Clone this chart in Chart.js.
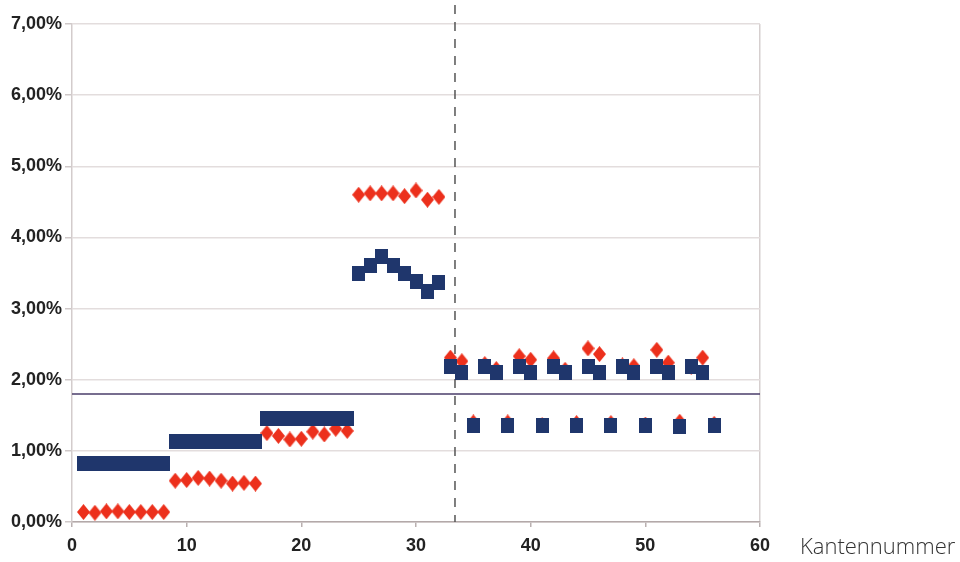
<!DOCTYPE html>
<html>
<head>
<meta charset="utf-8">
<script src="https://cdn.jsdelivr.net/npm/chart.js@4.4.1/dist/chart.umd.min.js"></script>
<style>
  html, body { margin: 0; padding: 0; background: #ffffff; }
  #wrap { position: relative; width: 960px; height: 562px; }
</style>
</head>
<body>
<div id="wrap"><canvas id="edgeChart"></canvas></div>
<script>
// Kantennummer (x) for both series
const edgeNumbers = [
  1, 2, 3, 4, 5, 6, 7, 8,
  9, 10, 11, 12, 13, 14, 15, 16,
  17, 18, 19, 20, 21, 22, 23, 24,
  25, 26, 27, 28, 29, 30, 31, 32,
  33, 34, 35, 36, 37, 38, 39, 40, 41, 42, 43, 44,
  45, 46, 47, 48, 49, 50, 51, 52, 53, 54, 55, 56
];

// blue squares (in %)
const blueValues = [
  0.82, 0.82, 0.82, 0.82, 0.82, 0.82, 0.82, 0.82,
  1.13, 1.13, 1.13, 1.13, 1.13, 1.13, 1.13, 1.13,
  1.46, 1.46, 1.46, 1.46, 1.46, 1.46, 1.46, 1.46,
  3.50, 3.60, 3.73, 3.60, 3.50, 3.38, 3.24, 3.37,
  2.19, 2.10, 1.35, 2.19, 2.10, 1.35, 2.19, 2.10, 1.36, 2.19, 2.10, 1.35,
  2.19, 2.10, 1.35, 2.19, 2.10, 1.35, 2.18, 2.10, 1.34, 2.19, 2.10, 1.35
];

// red diamonds (in %)
const redValues = [
  0.14, 0.13, 0.15, 0.15, 0.14, 0.14, 0.14, 0.14,
  0.58, 0.59, 0.62, 0.61, 0.58, 0.54, 0.55, 0.54,
  1.25, 1.21, 1.16, 1.17, 1.27, 1.23, 1.31, 1.28,
  4.60, 4.62, 4.62, 4.62, 4.58, 4.66, 4.53, 4.57,
  2.31, 2.26, 1.40, 2.22, 2.15, 1.40, 2.33, 2.28, 1.36, 2.30, 2.14, 1.39,
  2.44, 2.36, 1.39, 2.20, 2.19, 1.37, 2.42, 2.24, 1.41, 2.18, 2.31, 1.38
];

const yTicks = [0, 1, 2, 3, 4, 5, 6, 7];
const xTicks = [0, 10, 20, 30, 40, 50, 60];
const referenceLevel = 1.8;     // horizontal line
const dividerPosition = 33.4;   // dashed vertical line
const xTitle = 'Kantennummer';

const blue = 'rgb(31, 54, 108)';
const red = 'rgb(236, 48, 28)';
const labelFont = { family: '"Liberation Sans", Arial, sans-serif', size: 18, weight: 'bold' };

// marker images
function makeSquare() {
  const c = document.createElement('canvas');
  c.width = 13; c.height = 15;
  const g = c.getContext('2d');
  g.fillStyle = blue;
  g.fillRect(0, 0, 13, 15);
  return c;
}
function makeDiamond() {
  const c = document.createElement('canvas');
  c.width = 13; c.height = 16;
  const g = c.getContext('2d');
  g.fillStyle = red;
  g.beginPath();
  g.moveTo(6.5, 0);
  g.lineTo(13, 8);
  g.lineTo(6.5, 16);
  g.lineTo(0, 8);
  g.closePath();
  g.fill();
  return c;
}

function toPoints(values) {
  return edgeNumbers.map((x, i) => ({ x: x, y: values[i] }));
}

// extra lines + the x title
const extrasPlugin = {
  id: 'extras',
  beforeDatasetsDraw(chart) {
    const { ctx, chartArea, scales } = chart;
    const yRef = scales.y.getPixelForValue(referenceLevel);
    const xDiv = scales.x.getPixelForValue(dividerPosition);
    ctx.save();
    ctx.strokeStyle = '#4a3d6a';
    ctx.lineWidth = 1.5;
    ctx.beginPath();
    ctx.moveTo(chartArea.left, yRef);
    ctx.lineTo(chartArea.right, yRef);
    ctx.stroke();

    ctx.strokeStyle = '#555555';
    ctx.lineWidth = 1.5;
    ctx.setLineDash([9, 8]);
    ctx.beginPath();
    ctx.moveTo(xDiv, 5);
    ctx.lineTo(xDiv, chartArea.bottom);
    ctx.stroke();
    ctx.restore();
  },
  afterDraw(chart) {
    const { ctx } = chart;
    ctx.save();
    ctx.font = '300 22px "Open Sans", Lato, sans-serif';
    ctx.fillStyle = '#333333';
    ctx.textAlign = 'left';
    ctx.textBaseline = 'middle';
    ctx.fillText(xTitle, 800, 548);
    ctx.restore();
  }
};

const ctx = document.getElementById('edgeChart').getContext('2d');
new Chart(ctx, {
  type: 'scatter',
  data: {
    datasets: [
      {
        label: 'blau',
        data: toPoints(blueValues),
        pointStyle: makeSquare(),
        order: 0,
      },
      {
        label: 'rot',
        data: toPoints(redValues),
        pointStyle: makeDiamond(),
        order: 1,
      },
    ],
  },
  options: {
    responsive: true,
    maintainAspectRatio: false,
    animation: false,
    layout: {
      padding: { left: 0, right: 200, top: 24, bottom: 0 },
    },
    plugins: {
      legend: { display: false },
      tooltip: { enabled: false },
    },
    scales: {
      x: {
        type: 'linear',
        min: 0,
        max: 60,
        afterBuildTicks: (scale) => { scale.ticks = xTicks.map((v) => ({ value: v })); },
        afterFit: (scale) => { scale.height = 40; },
        ticks: {
          color: '#222222',
          font: labelFont,
          padding: 8,
          maxRotation: 0,
        },
        grid: {
          color: (c) => (c.tick && c.tick.value === 60 ? '#d6cfcf' : 'rgba(0,0,0,0)'),
          tickColor: '#b9b0b0',
          tickLength: 5,
          lineWidth: 1.5,
        },
        border: { color: '#b3a9a9', width: 1.5 },
      },
      y: {
        min: 0,
        max: 7,
        afterBuildTicks: (scale) => { scale.ticks = yTicks.map((v) => ({ value: v })); },
        afterFit: (scale) => { scale.width = 72; },
        ticks: {
          color: '#222222',
          font: labelFont,
          padding: 3,
          callback: (v) => v.toFixed(2).replace('.', ',') + '%',
        },
        grid: {
          color: '#e3dddd',
          tickColor: '#cfc8c8',
          tickLength: 7,
          lineWidth: 1.5,
        },
        border: { color: '#d3cccc', width: 1.5 },
      },
    },
  },
  plugins: [extrasPlugin],
});
</script>
</body>
</html>
